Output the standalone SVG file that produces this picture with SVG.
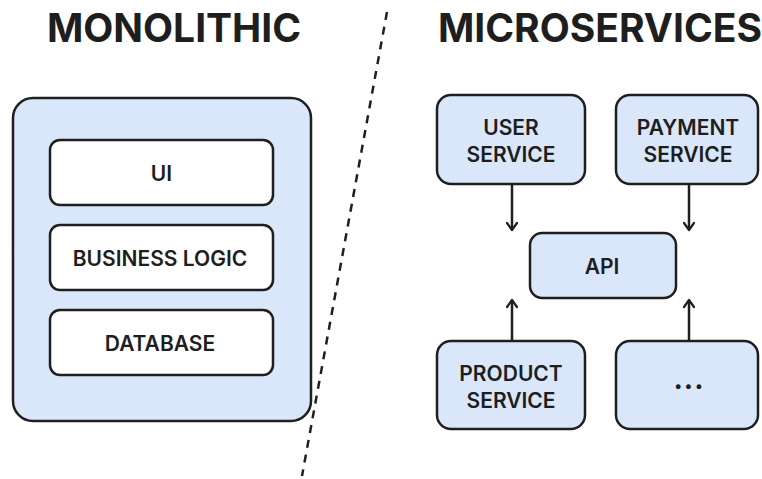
<svg xmlns="http://www.w3.org/2000/svg" width="762" height="479" viewBox="0 0 762 479">
<style>
.title{font-family:Inter,"Liberation Sans",sans-serif;font-weight:700;font-size:39px;fill:#1e1e1e;text-anchor:middle}
.lbl{font-family:Inter,"Liberation Sans",sans-serif;font-weight:600;font-size:21px;fill:#1e1e1e;text-anchor:middle}
.blue{fill:#dae7fa;stroke:#1f1f1f;stroke-width:2.5}
.white{fill:#ffffff;stroke:#1f1f1f;stroke-width:2.5}
.conn{stroke:#1f1f1f;stroke-width:2.5;fill:none}
</style>
<defs>
<marker id="ah" viewBox="0 0 12 12" refX="10" refY="6" markerWidth="12" markerHeight="12" markerUnits="userSpaceOnUse" orient="auto">
<path d="M3,1 L10,6 L3,11" fill="none" stroke="#1f1f1f" stroke-width="2.2" stroke-linecap="round" stroke-linejoin="round"/>
</marker>
</defs>
<rect width="762" height="479" fill="#ffffff"/>
<text class="title" x="174" y="42">MONOLITHIC</text>
<text class="title" x="600" y="42">MICROSERVICES</text>
<line x1="387" y1="12" x2="302" y2="476" stroke="#1f1f1f" stroke-width="2.5" stroke-dasharray="8,7"/>
<g id="monolith">
<rect class="blue" x="13" y="98" width="298" height="323" rx="20"/>
</g>
<g id="ui">
<rect class="white" x="50" y="140" width="223" height="65" rx="10"/>
<text class="lbl" x="161.5" y="181">UI</text>
</g>
<g id="business-logic">
<rect class="white" x="50" y="225" width="223" height="65" rx="10"/>
<text class="lbl" x="160" y="266">BUSINESS LOGIC</text>
</g>
<g id="database">
<rect class="white" x="50" y="310" width="223" height="65" rx="10"/>
<text class="lbl" x="160" y="351">DATABASE</text>
</g>
<g id="user-service">
<rect class="blue" x="437" y="95" width="148" height="89" rx="14"/>
<text class="lbl" x="511" y="135">USER</text>
<text class="lbl" x="511" y="162">SERVICE</text>
</g>
<g id="payment-service">
<rect class="blue" x="616" y="95" width="142" height="89" rx="14"/>
<text class="lbl" x="688" y="135">PAYMENT</text>
<text class="lbl" x="688" y="162">SERVICE</text>
</g>
<g id="api">
<rect class="blue" x="530" y="233" width="146" height="65" rx="12"/>
<text class="lbl" x="602" y="274">API</text>
</g>
<g id="product-service">
<rect class="blue" x="437" y="341" width="148" height="88" rx="14"/>
<text class="lbl" x="511" y="381">PRODUCT</text>
<text class="lbl" x="511" y="408">SERVICE</text>
</g>
<g id="more-services">
<rect class="blue" x="616" y="341" width="142" height="88" rx="14"/>
<text class="lbl" x="689" y="389" style="font-size:28px;font-weight:700;letter-spacing:1px">...</text>
</g>
<g id="connectors">
<line class="conn" x1="512" y1="184" x2="512" y2="230" marker-end="url(#ah)"/>
<line class="conn" x1="689" y1="184" x2="689" y2="230" marker-end="url(#ah)"/>
<line class="conn" x1="512" y1="341" x2="512" y2="300" marker-end="url(#ah)"/>
<line class="conn" x1="689" y1="341" x2="689" y2="300" marker-end="url(#ah)"/>
</g>
</svg>
